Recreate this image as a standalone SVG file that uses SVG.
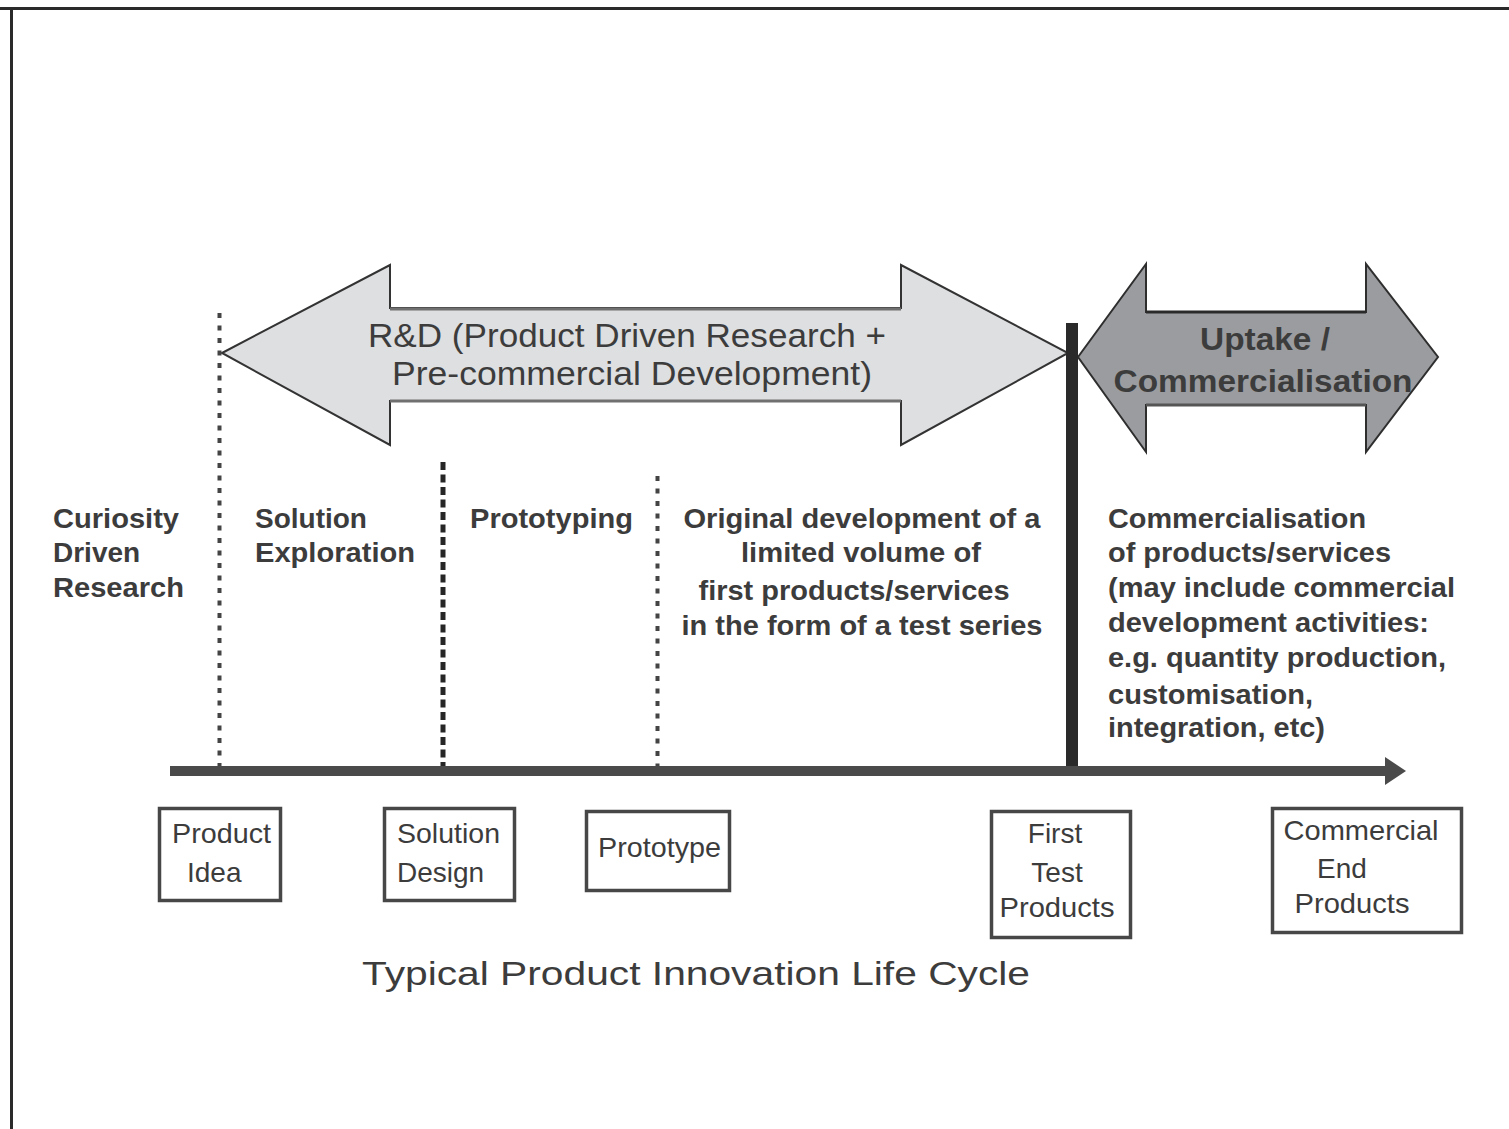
<svg xmlns="http://www.w3.org/2000/svg" width="1509" height="1129" viewBox="0 0 1509 1129">
<style>
.t{font-family:"Liberation Sans",Arial,sans-serif;fill:#3c3c3c}
.b{font-weight:bold;font-size:28px}
.r{font-size:28px}
.box{fill:#fff;stroke:#474747;stroke-width:3.5}
.dot{stroke:#444;stroke-width:4;stroke-dasharray:5 7.5;fill:none}
.dash{stroke:#262626;stroke-width:5;stroke-dasharray:8 4.5;fill:none}
</style>
<rect width="1509" height="1129" fill="#fff"/>
<g id="frame">
<line x1="0" y1="8.5" x2="1509" y2="8.5" stroke="#2a2a2a" stroke-width="3"/>
<line x1="11.5" y1="8" x2="11.5" y2="1129" stroke="#2a2a2a" stroke-width="3"/>
</g>
<g id="rd-arrow">
<polygon points="222,353 390,265 390,308 901,308 901,265 1068,353 901,445 901,401 390,401 390,445" fill="#dedfe1" stroke="#333" stroke-width="2"/>
<line x1="390" y1="309" x2="901" y2="309" stroke="#707070" stroke-width="3"/>
<line x1="390" y1="401" x2="901" y2="401" stroke="#707070" stroke-width="3"/>
<text class="t" font-size="33" x="627" y="347" text-anchor="middle" textLength="518" lengthAdjust="spacingAndGlyphs">R&amp;D (Product Driven Research +</text>
<text class="t" font-size="33" x="632" y="385" text-anchor="middle" textLength="480" lengthAdjust="spacingAndGlyphs">Pre-commercial Development)</text>
</g>
<g id="uptake-arrow">
<polygon points="1078,357 1146,264 1146,312 1366,312 1366,264 1438,357 1366,452 1366,405 1146,405 1146,452" fill="#9b9c9f" stroke="#2e2e2e" stroke-width="2"/>
<line x1="1146" y1="312" x2="1366" y2="312" stroke="#2a2a2a" stroke-width="3"/>
<line x1="1146" y1="405" x2="1366" y2="405" stroke="#555" stroke-width="3"/>
<text class="t" font-size="32" font-weight="bold" x="1265" y="350" text-anchor="middle" textLength="130" lengthAdjust="spacingAndGlyphs">Uptake /</text>
<text class="t" font-size="32" font-weight="bold" x="1263" y="392" text-anchor="middle" textLength="299" lengthAdjust="spacingAndGlyphs">Commercialisation</text>
</g>
<g id="connectors">
<line x1="219.5" y1="313" x2="219.5" y2="770" class="dot"/>
<line x1="443" y1="462" x2="443" y2="770" class="dash"/>
<line x1="657.5" y1="476" x2="657.5" y2="770" class="dot"/>
<line x1="1072" y1="323" x2="1072" y2="772" stroke="#2a2a2a" stroke-width="12"/>
<line x1="170" y1="774.5" x2="1390" y2="774.5" stroke="#a8a8a8" stroke-width="3"/>
<line x1="170" y1="771" x2="1390" y2="771" stroke="#4a4a4a" stroke-width="10"/>
<polygon points="1385,757 1406,771 1385,785" fill="#4a4a4a"/>
</g>
<g id="phase-curiosity">
<text class="t b" x="53" y="528" textLength="126" lengthAdjust="spacingAndGlyphs">Curiosity</text>
<text class="t b" x="53" y="562">Driven</text>
<text class="t b" x="53" y="597" textLength="131" lengthAdjust="spacingAndGlyphs">Research</text>
</g>
<g id="phase-solution">
<text class="t b" x="255" y="528">Solution</text>
<text class="t b" x="255" y="562" textLength="160" lengthAdjust="spacingAndGlyphs">Exploration</text>
</g>
<g id="phase-prototyping">
<text class="t b" x="470" y="528" textLength="163" lengthAdjust="spacingAndGlyphs">Prototyping</text>
</g>
<g id="phase-original">
<text class="t b" x="862" y="528" text-anchor="middle" textLength="357" lengthAdjust="spacingAndGlyphs">Original development of a</text>
<text class="t b" x="861" y="562" text-anchor="middle" textLength="240" lengthAdjust="spacingAndGlyphs">limited volume of</text>
<text class="t b" x="854" y="600" text-anchor="middle" textLength="311" lengthAdjust="spacingAndGlyphs">first products/services</text>
<text class="t b" x="862" y="635" text-anchor="middle" textLength="361" lengthAdjust="spacingAndGlyphs">in the form of a test series</text>
</g>
<g id="phase-commercial">
<text class="t b" x="1108" y="528" textLength="258" lengthAdjust="spacingAndGlyphs">Commercialisation</text>
<text class="t b" x="1108" y="562" textLength="283" lengthAdjust="spacingAndGlyphs">of products/services</text>
<text class="t b" x="1108" y="597" textLength="347" lengthAdjust="spacingAndGlyphs">(may include commercial</text>
<text class="t b" x="1108" y="632" textLength="321" lengthAdjust="spacingAndGlyphs">development activities:</text>
<text class="t b" x="1108" y="667" textLength="338" lengthAdjust="spacingAndGlyphs">e.g. quantity production,</text>
<text class="t b" x="1108" y="704" textLength="205" lengthAdjust="spacingAndGlyphs">customisation,</text>
<text class="t b" x="1108" y="737" textLength="217" lengthAdjust="spacingAndGlyphs">integration, etc)</text>
</g>
<g id="node-product-idea">
<rect class="box" x="159.5" y="808.5" width="121" height="92"/>
<text class="t r" x="172" y="843" textLength="99" lengthAdjust="spacingAndGlyphs">Product</text>
<text class="t r" x="187" y="882">Idea</text>
</g>
<g id="node-solution-design">
<rect class="box" x="384.5" y="808.5" width="130" height="92"/>
<text class="t r" x="397" y="843" textLength="103" lengthAdjust="spacingAndGlyphs">Solution</text>
<text class="t r" x="397" y="882">Design</text>
</g>
<g id="node-prototype">
<rect class="box" x="586.5" y="811.5" width="143" height="79"/>
<text class="t r" x="598" y="857" textLength="123" lengthAdjust="spacingAndGlyphs">Prototype</text>
</g>
<g id="node-first-test">
<rect class="box" x="991.5" y="811.5" width="139" height="126"/>
<text class="t r" x="1055" y="843" text-anchor="middle">First</text>
<text class="t r" x="1057" y="882" text-anchor="middle">Test</text>
<text class="t r" x="1057" y="917" text-anchor="middle" textLength="115" lengthAdjust="spacingAndGlyphs">Products</text>
</g>
<g id="node-commercial-end">
<rect class="box" x="1272.5" y="808.5" width="189" height="124"/>
<text class="t r" x="1361" y="840" text-anchor="middle" textLength="155" lengthAdjust="spacingAndGlyphs">Commercial</text>
<text class="t r" x="1342" y="878" text-anchor="middle">End</text>
<text class="t r" x="1352" y="913" text-anchor="middle" textLength="115" lengthAdjust="spacingAndGlyphs">Products</text>
</g>
<g id="title">
<text class="t" font-size="34" x="362" y="985" textLength="668" lengthAdjust="spacingAndGlyphs">Typical Product Innovation Life Cycle</text>
</g>
</svg>
